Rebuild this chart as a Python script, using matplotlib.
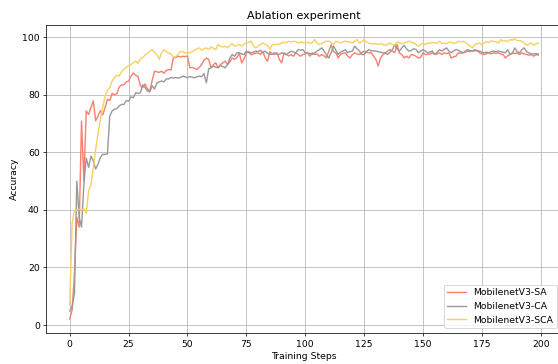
import matplotlib.pyplot as plt
import numpy as np

# accuracy per training step
steps = np.arange(200)

acc_sa = [
    2.1, 5.2, 17.9, 37.5, 34.0, 70.9, 50.0, 74.4, 73.2, 75.5,
    77.9, 71.0, 72.6, 74.5, 73.0, 75.5, 78.5, 78.0, 80.5, 80.0,
    80.4, 82.7, 83.5, 83.5, 84.5, 84.8, 86.5, 87.6, 86.8, 86.4,
    83.1, 82.5, 83.8, 82.0, 81.3, 85.0, 88.2, 88.0, 87.8, 88.2,
    87.5, 88.5, 88.8, 88.6, 92.8, 93.0, 93.4, 93.2, 93.4, 93.3,
    93.5, 89.4, 89.5, 89.2, 88.8, 89.5, 90.5, 92.0, 92.8, 92.3,
    89.4, 90.5, 91.1, 89.4, 90.5, 91.1, 91.7, 90.5, 91.5, 92.8,
    92.3, 93.0, 94.5, 91.1, 92.5, 94.5, 95.1, 93.9, 94.2, 94.5,
    94.5, 94.0, 95.1, 92.8, 91.7, 95.0, 94.2, 94.0, 94.6, 92.3,
    91.1, 94.6, 94.0, 93.5, 94.0, 93.4, 94.6, 94.0, 93.4, 94.0,
    94.2, 94.6, 93.4, 94.6, 94.0, 94.2, 93.4, 94.0, 93.5, 92.8,
    95.2, 97.4, 95.0, 94.6, 92.8, 94.0, 94.4, 94.6, 93.5, 92.8,
    94.0, 94.6, 94.2, 94.0, 94.6, 95.2, 94.8, 94.6, 94.6, 93.5,
    92.3, 90.0, 92.8, 94.0, 94.6, 95.2, 95.7, 95.2, 94.6, 97.5,
    94.5, 94.0, 92.8, 93.4, 92.8, 94.0, 93.8, 93.4, 92.8, 93.0,
    94.6, 94.0, 94.0, 94.2, 94.6, 94.0, 94.2, 94.6, 94.0, 94.6,
    94.3, 94.6, 92.8, 93.2, 93.4, 94.6, 94.4, 94.6, 94.8, 95.2,
    95.0, 95.2, 95.2, 95.5, 94.6, 94.2, 94.0, 94.3, 94.6, 94.2,
    94.6, 94.4, 94.6, 94.2, 94.0, 92.8, 93.6, 94.0, 94.6, 94.3,
    94.6, 94.0, 94.6, 94.2, 94.0, 93.8, 94.0, 93.4, 94.0, 93.8,
]

acc_ca = [
    4.9, 6.3, 10.9, 50.0, 37.5, 34.0, 48.8, 58.0, 54.8, 58.7,
    57.0, 54.2, 55.9, 58.2, 59.3, 59.3, 59.5, 72.6, 74.4, 75.0,
    75.2, 76.1, 76.7, 76.6, 78.0, 77.8, 79.3, 79.0, 80.7, 80.5,
    80.7, 83.5, 82.5, 81.3, 81.0, 83.2, 82.0, 84.1, 84.5, 84.8,
    84.5, 85.5, 85.5, 86.0, 85.8, 86.0, 85.8, 86.0, 86.5, 86.2,
    86.0, 86.3, 86.2, 85.9, 86.3, 86.5, 86.3, 87.4, 84.2, 89.0,
    89.4, 90.0, 89.6, 89.4, 90.2, 89.8, 89.4, 90.5, 92.8, 94.0,
    93.4, 94.6, 94.6, 94.2, 94.0, 95.2, 94.6, 94.6, 94.8, 95.2,
    95.0, 95.5, 94.6, 95.2, 94.4, 94.0, 94.2, 94.6, 94.2, 94.0,
    94.6, 94.3, 94.0, 94.6, 95.2, 94.8, 94.6, 95.7, 95.5, 95.7,
    94.6, 94.6, 94.3, 94.0, 94.6, 95.2, 95.7, 96.3, 95.2, 93.8,
    92.8, 94.6, 96.9, 95.5, 94.0, 94.8, 95.2, 95.7, 94.6, 95.0,
    95.2, 96.9, 96.0, 95.2, 94.0, 94.0, 95.0, 95.7, 95.2, 95.3,
    95.2, 95.0, 94.8, 94.6, 94.6, 94.0, 94.8, 95.7, 97.4, 96.0,
    95.2, 96.3, 97.2, 96.0, 95.2, 95.4, 96.0, 95.8, 94.6, 95.2,
    95.7, 95.2, 94.6, 94.9, 95.2, 94.0, 94.8, 95.7, 95.2, 95.8,
    96.3, 95.2, 94.6, 95.2, 95.7, 95.5, 95.0, 94.6, 95.2, 95.7,
    95.4, 95.2, 95.7, 95.2, 95.2, 94.8, 94.6, 94.8, 94.6, 95.0,
    95.2, 95.0, 95.2, 95.0, 94.8, 94.6, 95.7, 94.0, 94.5, 96.3,
    95.0, 94.6, 95.7, 96.3, 95.0, 94.6, 94.2, 94.2, 94.3, 94.2,
]

acc_sca = [
    7.0, 35.5, 39.8, 40.0, 40.2, 40.0, 40.3, 38.8, 46.5, 48.8,
    54.5, 61.0, 66.5, 71.5, 75.5, 79.5, 81.5, 82.5, 84.8, 86.0,
    86.8, 86.5, 88.0, 89.0, 89.5, 90.2, 90.5, 91.2, 91.7, 91.0,
    92.5, 93.0, 93.8, 94.5, 95.2, 95.7, 94.8, 94.0, 92.3, 94.5,
    95.7, 95.0, 94.5, 94.2, 93.0, 93.3, 94.0, 95.1, 95.0, 94.5,
    94.6, 94.6, 95.0, 95.5, 95.9, 96.3, 95.5, 96.0, 96.3, 95.7,
    96.6, 96.2, 95.7, 97.5, 96.8, 96.6, 96.9, 96.3, 97.2, 97.8,
    96.9, 97.2, 97.5, 96.9, 97.6, 98.0, 98.3, 98.6, 97.0, 96.3,
    96.9, 97.5, 98.0, 97.5, 97.2, 95.8, 97.5, 97.4, 97.6, 97.5,
    98.0, 98.3, 98.1, 98.6, 98.4, 98.6, 98.5, 98.0, 98.3, 98.2,
    98.0, 98.3, 97.8, 98.2, 99.2, 98.0, 97.5, 97.8, 98.3, 98.6,
    98.6, 98.2, 97.5, 98.6, 98.4, 98.0, 98.4, 98.6, 98.5, 98.3,
    98.0, 98.6, 99.2, 98.0, 98.4, 99.2, 98.3, 98.0, 97.8, 97.6,
    97.8, 97.5, 97.8, 97.5, 97.2, 97.5, 98.0, 97.5, 97.3, 98.3,
    98.0, 97.8, 98.0, 98.3, 98.6, 98.3, 98.1, 97.5, 96.9, 97.4,
    98.0, 97.5, 98.0, 97.8, 98.3, 98.0, 97.9, 98.6, 97.8, 98.0,
    97.7, 98.3, 98.3, 97.9, 98.0, 98.6, 98.4, 98.6, 98.3, 97.5,
    97.0, 96.3, 97.5, 97.7, 98.0, 97.4, 98.0, 98.4, 98.2, 98.8,
    98.5, 98.4, 98.0, 99.2, 98.6, 98.8, 98.5, 99.2, 99.0, 99.5,
    98.8, 98.9, 98.6, 98.0, 97.2, 97.6, 98.0, 97.2, 97.7, 98.0,
]

DPI = 67
fig = plt.figure(figsize=(558 / DPI, 364 / DPI), dpi=DPI)
# the reference is cropped on the right, so the axes run past the edge
ax = fig.add_axes([0.083, 0.0852, 0.9238, 0.847])

ax.plot(steps, acc_sa, color='#FA7F6F', linewidth=1.5, label='MobilenetV3-SA')
ax.plot(steps, acc_ca, color='#999999', linewidth=1.5, label='MobilenetV3-CA')
ax.plot(steps, acc_sca, color='#F7D160', linewidth=1.5, label='MobilenetV3-SCA')

ax.set_title('Ablation experiment')
ax.set_xlabel('Training Steps')
ax.set_ylabel('Accuracy')
ax.grid(True)
ax.legend(loc='lower right')

plt.savefig('out.png', dpi=DPI)
